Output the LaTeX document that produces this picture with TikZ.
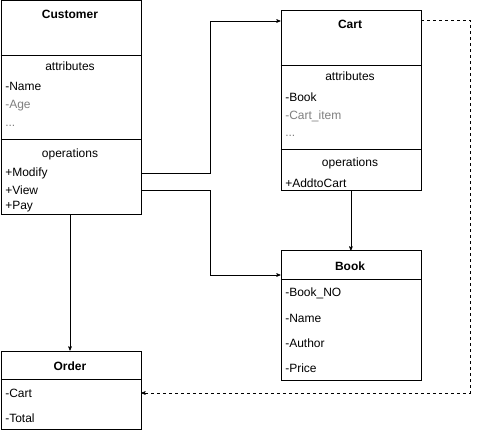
\documentclass[tikz,border=0pt]{standalone}
\usepackage{fontspec}
\setmainfont{Liberation Sans}
\usetikzlibrary{arrows,positioning}

\begin{document}
\begin{tikzpicture}[x=1pt,y=-1pt,->,>=stealth',semithick,
                    font=\fontsize{12}{14}\selectfont]
  \tikzstyle{class}=[draw=black,fill=white,thick,inner sep=0pt,anchor=north west]
  \tikzstyle{title}=[font=\fontsize{12}{14}\selectfont\bfseries]
  \tikzstyle{member}=[anchor=west,inner sep=0pt]
  \tikzstyle{faded}=[member,text=black!50]
  \tikzstyle{line}=[-,thick]

  \useasboundingbox (0,0) rectangle (479,430);

  % class boxes
  \node[class,minimum width=140pt,minimum height=214pt] (Customer) at (0.5,0.5) {};
  \node[class,minimum width=140pt,minimum height=180pt] (Cart)     at (280.5,10.5) {};
  \node[class,minimum width=140pt,minimum height=129pt] (Book)     at (280.5,250.5) {};
  \node[class,minimum width=140pt,minimum height=78pt]  (Order)    at (0.5,350.5) {};

  % compartments
  \draw[line] (0.5,55) -- (140.5,55)  (0.5,139) -- (140.5,139);
  \draw[line] (280.5,65) -- (420.5,65)  (280.5,149) -- (420.5,149);
  \draw[line] (280.5,279) -- (420.5,279);
  \draw[line] (0.5,379) -- (140.5,379);

  % Customer
  \node[title] (CustomerT) at (70,14) {Customer};
  \node (CustomerA) at (70,66) {attributes};
  \node[member] (CName)   at (5,86)  {-Name};
  \node[faded]  (CAge)    at (5,106) {-Age};
  \node[faded]  (CDots)   at (5,126) {...};
  \node (CustomerO) at (70,154) {operations};
  \node[member] (Modify)  at (5,173) {+Modify};
  \node[member] (View)    at (5,190) {+View};
  \node[member] (Pay)     at (5,207) {+Pay};

  % Cart
  \node[title] (CartT) at (350,24) {Cart};
  \node (CartA) at (350,76) {attributes};
  \node[member] (KBook)   at (285,97)  {-Book};
  \node[faded]  (KItem)   at (285,116) {-Cart\_item};
  \node[faded]  (KDots)   at (285,136) {...};
  \node (CartO) at (350,163) {operations};
  \node[member] (AddtoCart) at (285,183) {+AddtoCart};

  % Book
  \node[title] (BookT) at (350,266) {Book};
  \node[member] (BookNO)  at (285,293) {-Book\_NO};
  \node[member] (BName)   at (285,318) {-Name};
  \node[member] (Author)  at (285,343) {-Author};
  \node[member] (Price)   at (285,368) {-Price};

  % Order
  \node[title] (OrderT) at (70,366) {Order};
  \node[member] (OCart)   at (5,393) {-Cart};
  \node[member] (Total)   at (5,418) {-Total};

  % relations
  \draw (Customer.east |- 0,173) -- (210,173) |- (Cart.west |- 0,21);
  \draw (Customer.east |- 0,190) -- (210,190) |- (Book.west |- 0,275);
  \draw (Customer.south -| 70,0) -- (Order.north -| 70,0);
  \draw (Cart.south) -- (Book.north);
  \draw[dashed] (Cart.east |- 0,20) -- (470,20) |- (Order.east |- OCart);
\end{tikzpicture}
\end{document}
